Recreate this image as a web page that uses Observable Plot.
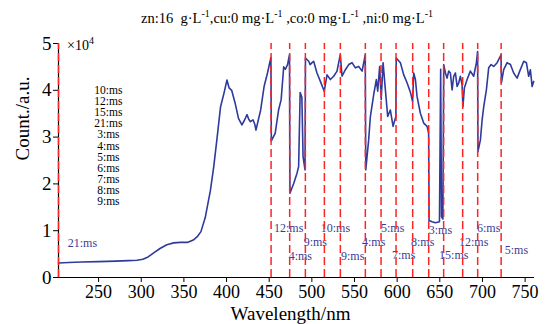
<!DOCTYPE html>
<html><head><meta charset="utf-8">
<script src="https://cdn.jsdelivr.net/npm/d3@7"></script>
<script src="https://cdn.jsdelivr.net/npm/@observablehq/plot@0.6"></script>
<style>
body{margin:0;background:#fff}
svg{font-family:"Liberation Serif","Times New Roman",serif}
</style>
</head><body><div id="chart"></div>
<script>
// wavelength (nm) and counts (x10^4 a.u.)
const wavelength = [203,215,230,250,270,285,295,302,308,315,322,330,338,346,354,361,366,370,375,381,385,389,393,397,400.5,403,406,410,414,418,421,424,426,428,431,433,434.5,437,440,444,448,452,452.5,457,461,464,467,469,471.5,473.8,474.3,478.7,482.6,484.5,486.3,488.3,489.7,492,492.5,496.3,498,500.2,502.1,506,510,514.5,517.8,521.7,525.6,529.5,533.3,535.4,539.3,543.2,547.1,551,554.9,558.9,562.6,563.2,566.6,568.6,572.5,575.6,577.2,579.5,581.3,583.5,586.2,588.9,592,595.2,598.5,598.9,603.8,607.7,611.6,615.5,618.1,619.4,621.4,623.3,627.2,631.1,635.1,636.9,637.4,640.9,644.8,649.6,651,652,653.6,654.6,656.6,658.5,660.4,662.4,664.4,666.3,668.3,670.3,672.2,674.1,676.1,677.1,678.8,682,685.8,689.7,692.9,694.3,694.7,697.6,699.6,701.5,704.6,707.3,710.1,713.2,717.2,721.8,722.2,724.9,728.9,732.8,736.6,740.6,743.7,748.4,751.5,754.2,756.2,758.2,760];
const counts = [0.31,0.32,0.33,0.34,0.35,0.36,0.37,0.39,0.44,0.53,0.62,0.70,0.74,0.75,0.75,0.80,0.88,0.98,1.28,1.85,2.37,3.00,3.65,3.94,4.22,4.05,4.00,3.73,3.40,3.26,3.36,3.48,3.38,3.33,3.37,3.28,3.15,3.35,3.58,4.08,4.37,4.70,2.92,3.08,3.58,3.80,4.50,4.45,4.55,4.76,1.80,2.01,2.23,2.37,3.95,3.85,2.58,2.30,4.69,4.62,4.55,4.59,4.62,4.37,4.19,3.98,4.33,4.23,4.30,4.41,4.76,4.30,4.44,4.55,4.59,4.48,4.51,4.41,4.76,2.30,2.94,3.44,3.91,4.23,3.98,4.51,3.80,4.59,4.01,3.44,3.58,3.23,3.44,4.69,4.59,4.33,4.16,3.96,3.76,4.37,4.23,3.87,3.51,3.30,3.23,3.08,1.22,1.19,1.17,1.19,4.45,1.30,1.25,4.55,4.37,4.26,4.41,4.37,4.01,4.30,4.37,4.08,4.16,4.30,4.12,3.65,4.05,4.23,4.41,4.30,4.59,4.83,2.69,2.94,3.37,3.65,4.01,4.48,4.55,4.51,4.59,4.76,4.16,4.44,4.59,4.55,4.37,4.26,4.41,4.62,4.59,4.30,4.44,4.08,4.19];

// segment boundaries (nm)
const boundaries = [452.2,474.0,492.4,514.7,533.4,562.7,581.1,598.7,618.2,637.0,654.5,676.8,694.4,721.9];
const axisStart = 203;

// integration-time labels per segment
const segText = ["21:ms","12:ms","10:ms","5:ms","3:ms","6:ms","9:ms","4:ms","8:ms","12:ms","4:ms","9:ms","7:ms","15:ms","5:ms"];
const segX    = [231,472.8,527.6,594.7,650.7,707.3,504.1,572.5,629.9,689.7,486.5,547.8,607.6,666.3,739.8];
const segY    = [0.74,1.045,1.045,1.045,1.02,1.06,0.745,0.745,0.745,0.745,0.457,0.457,0.47,0.47,0.58];

const legendItems = ["10:ms","12:ms","15:ms","21:ms","3:ms","4:ms","5:ms","6:ms","7:ms","8:ms","9:ms"];

const xTicks = [250,300,350,400,450,500,550,600,650,700,750];
const yTicks = [0,1,2,3,4,5];

const spectrum = wavelength.map((w, i) => ({w, c: counts[i]}));
const segLabels = segText.map((t, i) => ({t, x: segX[i], y: segY[i]}));

const chart = Plot.plot({
  width: 549, height: 324,
  marginLeft: 58, marginRight: 15, marginTop: 43, marginBottom: 47,
  style: {fontFamily: "Liberation Serif", background: "#fff", color: "#000", overflow: "visible"},
  x: {domain: [axisStart, 761], label: null},
  y: {domain: [0, 5], label: null},
  marks: [
    Plot.axisX({ticks: xTicks, tickSize: 5, tickPadding: 3, fontSize: 18, label: null, stroke: "#000"}),
    Plot.axisY({ticks: yTicks, tickFormat: d3.format("d"), tickSize: 5, tickPadding: 2, fontSize: 19, label: null, stroke: "#000"}),
    Plot.ruleY([0], {stroke: "#000", strokeWidth: 1.2}),
    Plot.ruleX([axisStart], {stroke: "#000", strokeWidth: 1.2}),
    Plot.line(spectrum, {x: "w", y: "c", stroke: "#2e3b9c", strokeWidth: 1.6}),
    Plot.text(segLabels, {x: "x", y: "y", text: "t", fill: "#3a3a98", fontSize: 12}),
    Plot.text([legendItems.join("\n")], {x: 261.5, y: 2.81, text: d => d, fill: "#000", fontSize: 11.5, lineHeight: 0.97, lineAnchor: "middle"}),
    Plot.ruleX([axisStart, ...boundaries], {y1: 0, y2: 5, stroke: "#ff2323", strokeWidth: 1.5, strokeDasharray: "8,4"}),
    Plot.text(["Wavelength/nm"], {frameAnchor: "bottom", dx: -6, dy: 36, fontSize: 19, lineAnchor: "middle", text: d => d}),
    Plot.text(["Count./a.u."], {frameAnchor: "left", dx: -36, dy: 0, rotate: -90, fontSize: 19, lineAnchor: "middle", text: d => d})
  ]
});
document.getElementById("chart").appendChild(chart);

// title and exponent with superscripts
const svg = d3.select(chart);
const title = svg.append("text").attr("x", 287).attr("y", 23).attr("text-anchor", "middle")
  .attr("font-size", 14.5).attr("font-family", "Liberation Serif");
const parts = [["zn:16  g·L",0],["-1",1],[",cu:0 mg·L",0],["-1",1],[" ,co:0 mg·L",0],["-1",1],[" ,ni:0 mg·L",0],["-1",1]];
parts.forEach(([t, sup], i) => {
  const ts = title.append("tspan").text(t);
  if (sup) ts.attr("font-size", 10).attr("dy", -6);
  else if (i > 0) ts.attr("dy", 6);
});
const exp = svg.append("text").attr("x", 67).attr("y", 50).attr("font-size", 14)
  .attr("font-family", "Liberation Serif").attr("text-anchor", "start");
exp.append("tspan").text("\u00d710");
exp.append("tspan").text("4").attr("font-size", 10).attr("dy", -6);
</script>
</body></html>
